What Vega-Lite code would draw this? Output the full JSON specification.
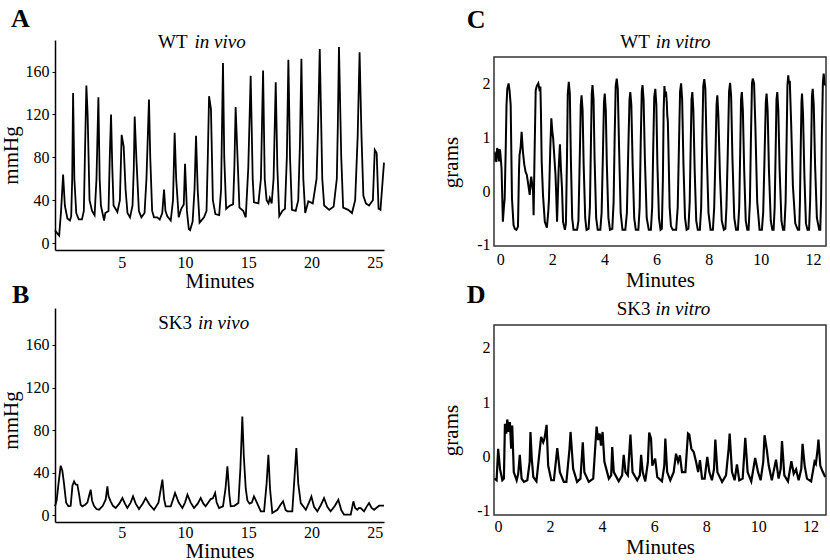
{
  "$schema": "https://vega.github.io/schema/vega-lite/v6.json",
  "background": "white",
  "padding": {"left": 0, "top": 6, "right": 0, "bottom": 0},
  "config": {
    "font": "Liberation Serif",
    "view": {"stroke": null},
    "axis": {"labelFont": "Liberation Serif", "labelFontSize": 16, "labelColor": "#000", "titleFont": "Liberation Serif", "titleFontSize": 21, "titleFontWeight": "normal", "titleColor": "#000", "grid": false, "domainColor": "#000", "tickColor": "#000"},
    "title": {"font": "Liberation Serif", "fontSize": 26, "fontWeight": "bold", "anchor": "start", "frame": "bounds", "color": "#000"}
  },
  "datasets": {
    "A": [{"t":-0.28,"v":12},{"t":-0.1,"v":9},{"t":0.05,"v":7},{"t":0.2,"v":30},{"t":0.36,"v":64},{"t":0.5,"v":35},{"t":0.7,"v":23},{"t":0.9,"v":21},{"t":1.0,"v":25},{"t":1.08,"v":60},{"t":1.15,"v":140},{"t":1.25,"v":60},{"t":1.4,"v":28},{"t":1.6,"v":22},{"t":1.85,"v":22},{"t":2.0,"v":30},{"t":2.1,"v":90},{"t":2.2,"v":147},{"t":2.3,"v":120},{"t":2.45,"v":40},{"t":2.65,"v":30},{"t":2.85,"v":26},{"t":3.0,"v":60},{"t":3.15,"v":136},{"t":3.25,"v":60},{"t":3.35,"v":35},{"t":3.6,"v":21},{"t":3.7,"v":28},{"t":3.95,"v":30},{"t":4.05,"v":80},{"t":4.15,"v":120},{"t":4.25,"v":70},{"t":4.35,"v":35},{"t":4.65,"v":29},{"t":4.85,"v":40},{"t":4.99,"v":101},{"t":5.15,"v":90},{"t":5.3,"v":50},{"t":5.45,"v":28},{"t":5.65,"v":24},{"t":5.85,"v":35},{"t":5.95,"v":70},{"t":6.02,"v":118},{"t":6.15,"v":80},{"t":6.35,"v":30},{"t":6.55,"v":24},{"t":6.8,"v":28},{"t":6.95,"v":60},{"t":7.15,"v":134},{"t":7.25,"v":80},{"t":7.4,"v":30},{"t":7.55,"v":24},{"t":7.8,"v":24},{"t":8.0,"v":22},{"t":8.2,"v":28},{"t":8.34,"v":50},{"t":8.45,"v":30},{"t":8.6,"v":25},{"t":8.87,"v":21},{"t":9.05,"v":40},{"t":9.18,"v":103},{"t":9.3,"v":60},{"t":9.5,"v":24},{"t":9.7,"v":32},{"t":9.9,"v":36},{"t":10.0,"v":74},{"t":10.15,"v":30},{"t":10.3,"v":13},{"t":10.4,"v":12},{"t":10.6,"v":20},{"t":10.75,"v":50},{"t":10.87,"v":100},{"t":11.0,"v":50},{"t":11.15,"v":19},{"t":11.5,"v":24},{"t":11.7,"v":30},{"t":11.8,"v":80},{"t":11.9,"v":137},{"t":12.05,"v":125},{"t":12.2,"v":40},{"t":12.4,"v":27},{"t":12.7,"v":26},{"t":12.85,"v":50},{"t":13.0,"v":168},{"t":13.1,"v":80},{"t":13.25,"v":32},{"t":13.55,"v":35},{"t":13.8,"v":36},{"t":13.9,"v":70},{"t":14.0,"v":127},{"t":14.15,"v":80},{"t":14.3,"v":33},{"t":14.6,"v":30},{"t":14.8,"v":24},{"t":15.0,"v":70},{"t":15.19,"v":156},{"t":15.35,"v":60},{"t":15.45,"v":38},{"t":15.8,"v":37},{"t":16.0,"v":60},{"t":16.17,"v":161},{"t":16.3,"v":60},{"t":16.45,"v":40},{"t":16.6,"v":37},{"t":16.7,"v":42},{"t":16.85,"v":37},{"t":17.0,"v":60},{"t":17.17,"v":150},{"t":17.3,"v":70},{"t":17.45,"v":25},{"t":17.7,"v":30},{"t":17.9,"v":32},{"t":18.05,"v":80},{"t":18.17,"v":171},{"t":18.3,"v":80},{"t":18.45,"v":31},{"t":18.75,"v":30},{"t":18.95,"v":40},{"t":19.08,"v":90},{"t":19.2,"v":172},{"t":19.35,"v":60},{"t":19.5,"v":28},{"t":19.75,"v":39},{"t":20.1,"v":37},{"t":20.4,"v":60},{"t":20.52,"v":110},{"t":20.65,"v":181},{"t":20.85,"v":60},{"t":21.0,"v":35},{"t":21.4,"v":31},{"t":21.75,"v":34},{"t":22.0,"v":60},{"t":22.08,"v":110},{"t":22.17,"v":183},{"t":22.35,"v":80},{"t":22.5,"v":33},{"t":22.9,"v":31},{"t":23.2,"v":28},{"t":23.45,"v":40},{"t":23.65,"v":100},{"t":23.8,"v":178},{"t":23.95,"v":100},{"t":24.1,"v":44},{"t":24.3,"v":37},{"t":24.55,"v":35},{"t":24.85,"v":40},{"t":25.0,"v":87},{"t":25.15,"v":84},{"t":25.3,"v":32},{"t":25.45,"v":31},{"t":25.73,"v":75}],
    "B": [{"t":-0.28,"v":8.5},{"t":-0.15,"v":14},{"t":0.0,"v":30},{"t":0.17,"v":46.6},{"t":0.3,"v":42},{"t":0.43,"v":30},{"t":0.6,"v":12},{"t":0.78,"v":8.5},{"t":0.96,"v":9},{"t":1.1,"v":28},{"t":1.23,"v":31.9},{"t":1.35,"v":29},{"t":1.49,"v":28.8},{"t":1.62,"v":20},{"t":1.75,"v":10},{"t":1.88,"v":8.5},{"t":2.1,"v":10},{"t":2.28,"v":12},{"t":2.45,"v":20},{"t":2.54,"v":24.1},{"t":2.65,"v":14},{"t":2.8,"v":9},{"t":3.0,"v":6},{"t":3.2,"v":5.3},{"t":3.5,"v":9},{"t":3.73,"v":15},{"t":3.86,"v":27.2},{"t":3.95,"v":18},{"t":4.12,"v":13.2},{"t":4.3,"v":9},{"t":4.52,"v":6.9},{"t":4.8,"v":11},{"t":5.05,"v":16.3},{"t":5.25,"v":11},{"t":5.44,"v":6.9},{"t":5.7,"v":12},{"t":5.89,"v":17.8},{"t":6.1,"v":11},{"t":6.36,"v":6},{"t":6.65,"v":11},{"t":6.89,"v":16.3},{"t":7.2,"v":10},{"t":7.55,"v":5.3},{"t":7.9,"v":12},{"t":8.21,"v":33.5},{"t":8.35,"v":15},{"t":8.47,"v":8.5},{"t":8.87,"v":8.5},{"t":9.05,"v":15},{"t":9.21,"v":21},{"t":9.5,"v":12},{"t":9.79,"v":6.9},{"t":10.0,"v":12},{"t":10.19,"v":19.4},{"t":10.45,"v":12},{"t":10.71,"v":6.9},{"t":11.0,"v":11},{"t":11.24,"v":16.3},{"t":11.45,"v":11},{"t":11.63,"v":8.5},{"t":12.03,"v":15.3},{"t":12.2,"v":16},{"t":12.38,"v":21},{"t":12.5,"v":12},{"t":12.69,"v":6.9},{"t":13.0,"v":8.5},{"t":13.2,"v":25},{"t":13.35,"v":46},{"t":13.5,"v":20},{"t":13.61,"v":8.5},{"t":13.9,"v":9},{"t":14.22,"v":11.6},{"t":14.38,"v":45},{"t":14.53,"v":92.8},{"t":14.65,"v":55},{"t":14.8,"v":25},{"t":14.93,"v":14},{"t":15.1,"v":11},{"t":15.28,"v":12},{"t":15.45,"v":17.8},{"t":15.6,"v":14},{"t":15.99,"v":3.8},{"t":16.25,"v":3.8},{"t":16.45,"v":30},{"t":16.59,"v":56.9},{"t":16.72,"v":25},{"t":16.9,"v":2.2},{"t":17.3,"v":5.3},{"t":17.55,"v":10},{"t":17.75,"v":13.2},{"t":17.95,"v":5},{"t":18.09,"v":3.8},{"t":18.48,"v":3.8},{"t":18.65,"v":35},{"t":18.8,"v":63.1},{"t":18.95,"v":30},{"t":19.15,"v":11.6},{"t":19.55,"v":5.3},{"t":19.8,"v":12},{"t":19.99,"v":17.8},{"t":20.2,"v":8},{"t":20.46,"v":3.8},{"t":20.75,"v":10},{"t":20.99,"v":16.3},{"t":21.25,"v":8},{"t":21.51,"v":3.8},{"t":21.85,"v":9},{"t":22.12,"v":14.7},{"t":22.35,"v":5},{"t":22.57,"v":0.7},{"t":23.1,"v":0.7},{"t":23.31,"v":13.2},{"t":23.45,"v":7},{"t":23.62,"v":5.3},{"t":23.75,"v":7},{"t":23.89,"v":6.9},{"t":24.15,"v":3.8},{"t":24.35,"v":8},{"t":24.55,"v":11.6},{"t":24.75,"v":7},{"t":24.95,"v":5.3},{"t":25.34,"v":9.1},{"t":25.73,"v":9.1}],
    "C": [{"t":-0.24,"v":0.55},{"t":-0.22,"v":0.73},{"t":-0.15,"v":0.54},{"t":-0.12,"v":0.8},{"t":-0.09,"v":0.76},{"t":-0.05,"v":0.55},{"t":-0.02,"v":0.78},{"t":0.0,"v":0.73},{"t":0.05,"v":0.42},{"t":0.1,"v":-0.57},{"t":0.14,"v":-0.3},{"t":0.17,"v":-0.14},{"t":0.21,"v":0.79},{"t":0.24,"v":1.6},{"t":0.27,"v":1.9},{"t":0.32,"v":2.0},{"t":0.36,"v":1.85},{"t":0.4,"v":1.6},{"t":0.45,"v":-0.14},{"t":0.51,"v":-0.63},{"t":0.56,"v":-0.7},{"t":0.62,"v":-0.72},{"t":0.68,"v":-0.66},{"t":0.72,"v":0.4},{"t":0.74,"v":0.67},{"t":0.78,"v":0.8},{"t":0.82,"v":1.1},{"t":0.87,"v":0.73},{"t":0.92,"v":0.5},{"t":0.97,"v":0.36},{"t":1.02,"v":0.3},{"t":1.06,"v":0.17},{"t":1.13,"v":-0.07},{"t":1.17,"v":0.2},{"t":1.19,"v":0.27},{"t":1.23,"v":0.1},{"t":1.26,"v":-0.01},{"t":1.28,"v":-0.45},{"t":1.31,"v":0.5},{"t":1.36,"v":1.87},{"t":1.4,"v":1.95},{"t":1.46,"v":2.0},{"t":1.5,"v":1.9},{"t":1.54,"v":1.94},{"t":1.56,"v":1.5},{"t":1.59,"v":0.54},{"t":1.64,"v":-0.07},{"t":1.71,"v":-0.57},{"t":1.79,"v":-0.68},{"t":1.84,"v":-0.4},{"t":1.87,"v":-0.14},{"t":1.92,"v":0.8},{"t":1.96,"v":1.35},{"t":2.0,"v":1.1},{"t":2.03,"v":0.98},{"t":2.08,"v":0.6},{"t":2.12,"v":0.3},{"t":2.15,"v":-0.1},{"t":2.18,"v":-0.57},{"t":2.24,"v":0.4},{"t":2.29,"v":0.87},{"t":2.33,"v":0.4},{"t":2.37,"v":0.05},{"t":2.41,"v":-0.57},{"t":2.48,"v":-0.72},{"t":2.52,"v":-0.6},{"t":2.56,"v":0.6},{"t":2.59,"v":1.8},{"t":2.63,"v":2.03},{"t":2.67,"v":1.8},{"t":2.71,"v":0.6},{"t":2.76,"v":-0.5},{"t":2.81,"v":-0.72},{"t":2.95,"v":-0.72},{"t":3.0,"v":-0.55},{"t":3.05,"v":0.6},{"t":3.09,"v":1.6},{"t":3.12,"v":1.78},{"t":3.16,"v":1.5},{"t":3.2,"v":0.5},{"t":3.26,"v":-0.5},{"t":3.31,"v":-0.72},{"t":3.39,"v":-0.7},{"t":3.44,"v":-0.3},{"t":3.48,"v":0.9},{"t":3.51,"v":1.8},{"t":3.54,"v":1.97},{"t":3.58,"v":1.7},{"t":3.62,"v":0.6},{"t":3.68,"v":-0.5},{"t":3.74,"v":-0.72},{"t":3.84,"v":-0.72},{"t":3.89,"v":-0.4},{"t":3.94,"v":0.7},{"t":3.98,"v":1.65},{"t":4.01,"v":1.81},{"t":4.05,"v":1.5},{"t":4.09,"v":0.5},{"t":4.15,"v":-0.5},{"t":4.21,"v":-0.72},{"t":4.3,"v":-0.7},{"t":4.35,"v":-0.2},{"t":4.39,"v":1.0},{"t":4.43,"v":1.95},{"t":4.47,"v":2.09},{"t":4.51,"v":1.9},{"t":4.56,"v":0.8},{"t":4.62,"v":-0.4},{"t":4.69,"v":-0.72},{"t":4.8,"v":-0.72},{"t":4.86,"v":-0.4},{"t":4.91,"v":0.7},{"t":4.96,"v":1.7},{"t":4.99,"v":1.84},{"t":5.03,"v":1.6},{"t":5.08,"v":0.5},{"t":5.14,"v":-0.5},{"t":5.2,"v":-0.72},{"t":5.3,"v":-0.72},{"t":5.35,"v":-0.3},{"t":5.39,"v":0.9},{"t":5.43,"v":1.85},{"t":5.46,"v":1.97},{"t":5.5,"v":1.7},{"t":5.55,"v":0.6},{"t":5.62,"v":-0.5},{"t":5.7,"v":-0.72},{"t":5.78,"v":-0.72},{"t":5.83,"v":-0.3},{"t":5.87,"v":0.8},{"t":5.91,"v":1.75},{"t":5.95,"v":1.9},{"t":5.99,"v":1.6},{"t":6.03,"v":0.5},{"t":6.09,"v":-0.5},{"t":6.15,"v":-0.72},{"t":6.2,"v":-0.7},{"t":6.24,"v":0.2},{"t":6.27,"v":1.5},{"t":6.3,"v":1.95},{"t":6.33,"v":1.75},{"t":6.36,"v":1.85},{"t":6.39,"v":1.65},{"t":6.41,"v":1.4},{"t":6.43,"v":1.3},{"t":6.45,"v":0.9},{"t":6.5,"v":-0.3},{"t":6.55,"v":-0.65},{"t":6.62,"v":-0.72},{"t":6.75,"v":-0.72},{"t":6.81,"v":-0.3},{"t":6.86,"v":0.9},{"t":6.9,"v":1.85},{"t":6.94,"v":2.0},{"t":6.98,"v":1.7},{"t":7.03,"v":0.5},{"t":7.09,"v":-0.5},{"t":7.15,"v":-0.72},{"t":7.22,"v":-0.7},{"t":7.27,"v":-0.2},{"t":7.31,"v":0.9},{"t":7.34,"v":1.7},{"t":7.37,"v":1.84},{"t":7.41,"v":1.5},{"t":7.46,"v":0.4},{"t":7.52,"v":-0.55},{"t":7.58,"v":-0.72},{"t":7.66,"v":-0.72},{"t":7.71,"v":-0.3},{"t":7.75,"v":0.9},{"t":7.79,"v":1.95},{"t":7.83,"v":2.08},{"t":7.87,"v":1.9},{"t":7.92,"v":0.8},{"t":7.99,"v":-0.4},{"t":8.07,"v":-0.72},{"t":8.16,"v":-0.72},{"t":8.21,"v":-0.3},{"t":8.26,"v":0.7},{"t":8.3,"v":1.6},{"t":8.33,"v":1.78},{"t":8.37,"v":1.4},{"t":8.43,"v":0.3},{"t":8.5,"v":-0.55},{"t":8.58,"v":-0.72},{"t":8.64,"v":-0.7},{"t":8.68,"v":-0.3},{"t":8.73,"v":0.7},{"t":8.78,"v":1.85},{"t":8.82,"v":2.01},{"t":8.86,"v":1.75},{"t":8.91,"v":0.6},{"t":8.98,"v":-0.5},{"t":9.05,"v":-0.72},{"t":9.12,"v":-0.72},{"t":9.17,"v":-0.3},{"t":9.21,"v":0.8},{"t":9.24,"v":1.7},{"t":9.27,"v":1.84},{"t":9.31,"v":1.5},{"t":9.36,"v":0.4},{"t":9.42,"v":-0.55},{"t":9.48,"v":-0.72},{"t":9.53,"v":-0.72},{"t":9.58,"v":-0.2},{"t":9.62,"v":1.0},{"t":9.66,"v":2.0},{"t":9.69,"v":2.09},{"t":9.74,"v":2.0},{"t":9.79,"v":1.2},{"t":9.86,"v":-0.2},{"t":9.95,"v":-0.72},{"t":10.04,"v":-0.72},{"t":10.09,"v":-0.4},{"t":10.14,"v":0.6},{"t":10.19,"v":1.65},{"t":10.22,"v":1.81},{"t":10.26,"v":1.5},{"t":10.31,"v":0.4},{"t":10.38,"v":-0.55},{"t":10.44,"v":-0.72},{"t":10.49,"v":-0.72},{"t":10.53,"v":-0.3},{"t":10.57,"v":0.8},{"t":10.6,"v":1.7},{"t":10.63,"v":1.84},{"t":10.67,"v":1.5},{"t":10.72,"v":0.4},{"t":10.79,"v":-0.55},{"t":10.85,"v":-0.72},{"t":10.9,"v":-0.72},{"t":10.95,"v":-0.2},{"t":10.99,"v":1.0},{"t":11.02,"v":1.95},{"t":11.05,"v":2.15},{"t":11.08,"v":2.0},{"t":11.11,"v":2.05},{"t":11.16,"v":1.3},{"t":11.23,"v":0.1},{"t":11.32,"v":-0.6},{"t":11.42,"v":-0.72},{"t":11.47,"v":-0.72},{"t":11.5,"v":-0.2},{"t":11.53,"v":0.8},{"t":11.56,"v":1.65},{"t":11.58,"v":1.81},{"t":11.62,"v":1.4},{"t":11.67,"v":0.3},{"t":11.73,"v":-0.6},{"t":11.79,"v":-0.72},{"t":11.85,"v":-0.72},{"t":11.89,"v":-0.2},{"t":11.93,"v":0.8},{"t":11.96,"v":1.75},{"t":11.99,"v":1.9},{"t":12.03,"v":1.6},{"t":12.08,"v":0.5},{"t":12.15,"v":-0.5},{"t":12.24,"v":-0.72},{"t":12.28,"v":-0.72},{"t":12.31,"v":-0.2},{"t":12.34,"v":1.0},{"t":12.38,"v":2.0},{"t":12.41,"v":2.18},{"t":12.45,"v":2.0},{"t":12.5,"v":1.95}],
    "D": [{"t":-0.13,"v":-0.41},{"t":-0.05,"v":-0.44},{"t":0.01,"v":0.14},{"t":0.08,"v":-0.23},{"t":0.17,"v":-0.44},{"t":0.23,"v":-0.41},{"t":0.27,"v":0.6},{"t":0.32,"v":0.42},{"t":0.36,"v":0.68},{"t":0.41,"v":0.45},{"t":0.46,"v":0.63},{"t":0.51,"v":0.14},{"t":0.55,"v":0.57},{"t":0.61,"v":-0.29},{"t":0.72,"v":-0.44},{"t":0.78,"v":-0.32},{"t":0.84,"v":0.03},{"t":0.91,"v":-0.41},{"t":1.0,"v":-0.47},{"t":1.13,"v":-0.44},{"t":1.22,"v":-0.1},{"t":1.25,"v":0.45},{"t":1.3,"v":-0.04},{"t":1.36,"v":-0.38},{"t":1.48,"v":-0.46},{"t":1.61,"v":0.14},{"t":1.66,"v":0.36},{"t":1.74,"v":0.26},{"t":1.79,"v":0.33},{"t":1.87,"v":0.58},{"t":1.93,"v":-0.17},{"t":2.05,"v":-0.44},{"t":2.15,"v":-0.44},{"t":2.28,"v":0.15},{"t":2.38,"v":-0.29},{"t":2.53,"v":-0.47},{"t":2.63,"v":-0.47},{"t":2.75,"v":0.14},{"t":2.79,"v":0.45},{"t":2.89,"v":-0.23},{"t":3.04,"v":-0.47},{"t":3.17,"v":-0.41},{"t":3.26,"v":0.26},{"t":3.32,"v":-0.29},{"t":3.49,"v":-0.47},{"t":3.66,"v":-0.41},{"t":3.79,"v":0.55},{"t":3.85,"v":0.3},{"t":3.91,"v":0.42},{"t":3.96,"v":0.2},{"t":4.02,"v":0.45},{"t":4.09,"v":-0.1},{"t":4.26,"v":-0.41},{"t":4.35,"v":-0.35},{"t":4.39,"v":0.17},{"t":4.45,"v":-0.29},{"t":4.64,"v":-0.46},{"t":4.77,"v":-0.35},{"t":4.83,"v":0.03},{"t":4.9,"v":-0.29},{"t":4.99,"v":-0.35},{"t":5.09,"v":0.4},{"t":5.17,"v":-0.29},{"t":5.35,"v":-0.44},{"t":5.45,"v":-0.35},{"t":5.5,"v":0.03},{"t":5.56,"v":-0.29},{"t":5.66,"v":-0.46},{"t":5.76,"v":-0.1},{"t":5.81,"v":0.44},{"t":5.88,"v":0.33},{"t":5.93,"v":-0.17},{"t":6.04,"v":-0.04},{"t":6.12,"v":-0.38},{"t":6.3,"v":-0.46},{"t":6.39,"v":-0.17},{"t":6.43,"v":0.33},{"t":6.5,"v":-0.29},{"t":6.62,"v":-0.44},{"t":6.75,"v":-0.29},{"t":6.84,"v":0.05},{"t":6.92,"v":-0.1},{"t":6.99,"v":0.02},{"t":7.07,"v":-0.29},{"t":7.2,"v":-0.29},{"t":7.26,"v":0.14},{"t":7.3,"v":0.42},{"t":7.35,"v":0.4},{"t":7.43,"v":0.14},{"t":7.52,"v":0.08},{"t":7.61,"v":-0.1},{"t":7.69,"v":-0.29},{"t":7.76,"v":-0.07},{"t":7.84,"v":-0.41},{"t":7.94,"v":-0.41},{"t":8.04,"v":-0.01},{"t":8.12,"v":-0.29},{"t":8.22,"v":-0.44},{"t":8.3,"v":-0.23},{"t":8.35,"v":0.31},{"t":8.43,"v":-0.29},{"t":8.61,"v":-0.47},{"t":8.76,"v":-0.35},{"t":8.86,"v":0.14},{"t":8.9,"v":0.42},{"t":8.99,"v":-0.29},{"t":9.09,"v":-0.44},{"t":9.18,"v":-0.15},{"t":9.27,"v":-0.44},{"t":9.4,"v":-0.41},{"t":9.5,"v":0.34},{"t":9.59,"v":-0.29},{"t":9.73,"v":-0.46},{"t":9.88,"v":-0.03},{"t":9.99,"v":-0.29},{"t":10.09,"v":-0.44},{"t":10.19,"v":-0.1},{"t":10.24,"v":0.39},{"t":10.33,"v":0.11},{"t":10.4,"v":-0.17},{"t":10.52,"v":-0.44},{"t":10.68,"v":-0.06},{"t":10.78,"v":-0.41},{"t":10.86,"v":-0.23},{"t":10.91,"v":0.28},{"t":11.0,"v":-0.35},{"t":11.14,"v":-0.46},{"t":11.27,"v":-0.09},{"t":11.36,"v":-0.32},{"t":11.45,"v":-0.24},{"t":11.55,"v":-0.44},{"t":11.65,"v":-0.23},{"t":11.7,"v":0.23},{"t":11.78,"v":-0.17},{"t":11.87,"v":-0.41},{"t":12.03,"v":-0.46},{"t":12.16,"v":-0.1},{"t":12.21,"v":-0.14},{"t":12.28,"v":0.14},{"t":12.31,"v":0.31},{"t":12.38,"v":-0.17},{"t":12.47,"v":-0.28},{"t":12.57,"v":-0.38}]
  },
  "align": "none",
  "spacing": 51,
  "hconcat": [
    {
      "align": "none",
      "spacing": -9,
      "vconcat": [
        {
          "width": 329, "height": 210,
          "title": {"text": "A", "dx": 11, "offset": 1},
          "layer": [
            {
              "data": {"name": "A"},
              "mark": {"type": "line", "color": "#000", "strokeWidth": 1.8},
              "encoding": {
                "x": {"field": "t", "type": "quantitative", "scale": {"domain": [-0.28, 25.73], "nice": false, "zero": false}, "axis": {"values": [5, 10, 15, 20, 25], "title": "Minutes", "ticks": false, "domainWidth": 1.5, "labelPadding": 4, "titlePadding": 0}},
                "y": {"field": "v", "type": "quantitative", "scale": {"domain": [-6.5, 189.5], "nice": false, "zero": false}, "axis": {"values": [0, 10, 20, 30, 40, 50, 60, 70, 80, 90, 100, 110, 120, 130, 140, 150, 160, 170, 180], "labelExpr": "datum.value % 40 == 0 ? datum.label : ''", "title": "mmHg", "titleY": 115, "tickSize": 3, "domainWidth": 1.5, "labelPadding": 3, "titlePadding": 4}}
              }
            },
            {
              "data": {"values": [{}]},
              "mark": {"type": "text", "text": "WT", "align": "right", "baseline": "alphabetic", "fontSize": 19, "font": "Liberation Serif", "color": "#000"},
              "encoding": {"x": {"datum": 10.2}, "y": {"datum": 181.7}}
            },
            {
              "data": {"values": [{}]},
              "mark": {"type": "text", "text": "in vivo", "align": "left", "baseline": "alphabetic", "fontSize": 19, "fontStyle": "italic", "font": "Liberation Serif", "color": "#000"},
              "encoding": {"x": {"datum": 10.75}, "y": {"datum": 181.7}}
            }
          ]
        },
        {
          "width": 329, "height": 214,
          "title": {"text": "B", "dx": 12, "offset": 0},
          "layer": [
            {
              "data": {"name": "B"},
              "mark": {"type": "line", "color": "#000", "strokeWidth": 1.8},
              "encoding": {
                "x": {"field": "t", "type": "quantitative", "scale": {"domain": [-0.28, 25.73], "nice": false, "zero": false}, "axis": {"values": [5, 10, 15, 20, 25], "title": "Minutes", "ticks": false, "domainWidth": 1.5, "labelPadding": 2, "titlePadding": 0}},
                "y": {"field": "v", "type": "quantitative", "scale": {"domain": [-6.2, 194.6], "nice": false, "zero": false}, "axis": {"values": [0, 10, 20, 30, 40, 50, 60, 70, 80, 90, 100, 110, 120, 130, 140, 150, 160, 170, 180, 190], "labelExpr": "datum.value % 40 == 0 ? datum.label : ''", "title": "mmHg", "titleY": 112, "tickSize": 3, "domainWidth": 1.5, "labelPadding": 3, "titlePadding": 4}}
              }
            },
            {
              "data": {"values": [{}]},
              "mark": {"type": "text", "text": "SK3", "align": "right", "baseline": "alphabetic", "fontSize": 19, "font": "Liberation Serif", "color": "#000"},
              "encoding": {"x": {"datum": 10.55}, "y": {"datum": 174.7}}
            },
            {
              "data": {"values": [{}]},
              "mark": {"type": "text", "text": "in vivo", "align": "left", "baseline": "alphabetic", "fontSize": 19, "fontStyle": "italic", "font": "Liberation Serif", "color": "#000"},
              "encoding": {"x": {"datum": 11.03}, "y": {"datum": 174.7}}
            }
          ]
        }
      ]
    },
    {
      "align": "none",
      "spacing": -9,
      "vconcat": [
        {
          "width": 332, "height": 206,
          "title": {"text": "C", "dx": 26, "offset": 0},
          "layer": [
            {
              "data": {"name": "C"},
              "mark": {"type": "line", "color": "#000", "strokeWidth": 2, "clip": true},
              "encoding": {
                "x": {"field": "t", "type": "quantitative", "scale": {"domain": [-0.24, 12.5], "nice": false, "zero": false}, "axis": {"values": [0, 2, 4, 6, 8, 10, 12], "title": "Minutes", "ticks": false, "domain": false, "labelPadding": 5, "titlePadding": 2}},
                "y": {"field": "v", "type": "quantitative", "scale": {"domain": [-1.02, 2.806], "nice": false, "zero": false}, "axis": {"values": [-1, 0, 1, 2], "labelExpr": "datum.value + ''", "title": "grams", "titleY": 122, "ticks": false, "domain": false, "labelPadding": 4, "titlePadding": 15}}
              }
            },
            {
              "data": {"values": [{}]},
              "mark": {"type": "rect", "filled": false, "stroke": "#333", "strokeWidth": 1.5},
              "encoding": {"x": {"datum": -0.24}, "x2": {"datum": 12.5}, "y": {"datum": -1.02}, "y2": {"datum": 2.49}}
            },
            {
              "data": {"values": [{}]},
              "mark": {"type": "text", "text": "WT", "align": "right", "baseline": "alphabetic", "fontSize": 19, "font": "Liberation Serif", "color": "#000"},
              "encoding": {"x": {"datum": 5.74}, "y": {"datum": 2.65}}
            },
            {
              "data": {"values": [{}]},
              "mark": {"type": "text", "text": "in vitro", "align": "left", "baseline": "alphabetic", "fontSize": 19, "fontStyle": "italic", "font": "Liberation Serif", "color": "#000"},
              "encoding": {"x": {"datum": 5.97}, "y": {"datum": 2.65}}
            }
          ]
        },
        {
          "width": 332, "height": 190,
          "view": {"stroke": "#333", "strokeWidth": 1.5},
          "title": {"text": "D", "dx": 26, "offset": -8},
          "layer": [
            {
              "data": {"name": "D"},
              "mark": {"type": "line", "color": "#000", "strokeWidth": 2.2, "clip": true},
              "encoding": {
                "x": {"field": "t", "type": "quantitative", "scale": {"domain": [-0.15, 12.6], "nice": false, "zero": false}, "axis": {"values": [0, 2, 4, 6, 8, 10, 12], "title": "Minutes", "ticks": false, "domain": false, "labelPadding": 3, "titlePadding": 2}},
                "y": {"field": "v", "type": "quantitative", "scale": {"domain": [-1.08, 2.42], "nice": false, "zero": false}, "axis": {"values": [-1, 0, 1, 2], "labelExpr": "datum.value + ''", "title": "grams", "titleY": 105, "ticks": false, "domain": false, "labelPadding": 4, "titlePadding": 15}}
              }
            },
            {
              "data": {"values": [{}]},
              "mark": {"type": "text", "text": "SK3", "align": "right", "baseline": "alphabetic", "fontSize": 19, "font": "Liberation Serif", "color": "#000"},
              "encoding": {"x": {"datum": 5.86}, "y": {"datum": 2.6}}
            },
            {
              "data": {"values": [{}]},
              "mark": {"type": "text", "text": "in vitro", "align": "left", "baseline": "alphabetic", "fontSize": 19, "fontStyle": "italic", "font": "Liberation Serif", "color": "#000"},
              "encoding": {"x": {"datum": 6.05}, "y": {"datum": 2.6}}
            }
          ]
        }
      ]
    }
  ]
}
